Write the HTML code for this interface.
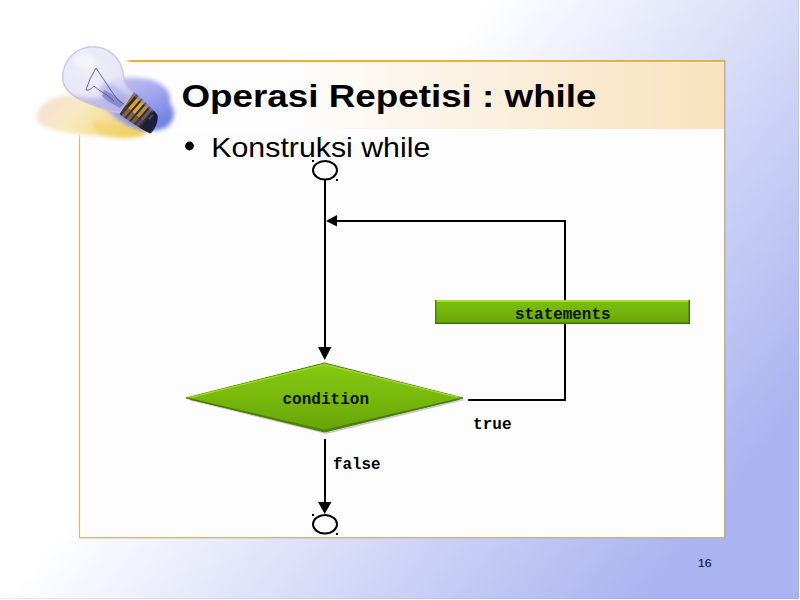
<!DOCTYPE html>
<html><head><meta charset="utf-8">
<style>
html,body{margin:0;padding:0;width:800px;height:600px;overflow:hidden;background:#fff;}
#bg{position:absolute;left:0;top:0;width:799px;height:599px;
background:linear-gradient(129deg,#ffffff 38%,#aab4f0 88%);box-shadow:inset -1px -1px 0 rgba(150,150,170,0.18);}
svg{position:absolute;left:0;top:0;}
text{font-family:"Liberation Sans",sans-serif;}
.mono{font-family:"Liberation Mono",monospace;font-weight:bold;}
</style></head><body>
<div id="bg"></div>
<svg width="800" height="600" viewBox="0 0 800 600">
<defs>
  <linearGradient id="tbar" x1="0" y1="0" x2="1" y2="0">
    <stop offset="0" stop-color="#fdfdfd"/>
    <stop offset="0.33" stop-color="#fdfdfd"/>
    <stop offset="1" stop-color="#f9e1bc"/>
  </linearGradient>
  <linearGradient id="grn" x1="0" y1="0" x2="0" y2="1">
    <stop offset="0" stop-color="#7cbe10"/>
    <stop offset="0.5" stop-color="#74b40c"/>
    <stop offset="1" stop-color="#68a40a"/>
  </linearGradient>
  <linearGradient id="grnd" x1="0" y1="0" x2="0" y2="1">
    <stop offset="0" stop-color="#86ca14"/>
    <stop offset="0.5" stop-color="#78b80c"/>
    <stop offset="1" stop-color="#66a40a"/>
  </linearGradient>

  <filter id="b1" x="-20%" y="-20%" width="140%" height="140%"><feGaussianBlur stdDeviation="0.7"/></filter>
  <filter id="b2" x="-20%" y="-20%" width="140%" height="140%"><feGaussianBlur stdDeviation="2"/></filter>
  <linearGradient id="peach" x1="0" y1="0" x2="1" y2="0.3">
    <stop offset="0" stop-color="#f8dcdc"/>
    <stop offset="0.45" stop-color="#f8eac0"/>
    <stop offset="1" stop-color="#f2d478"/>
  </linearGradient>
  <linearGradient id="blue" x1="0.1" y1="0" x2="0.8" y2="1">
    <stop offset="0" stop-color="#cac6f2"/>
    <stop offset="0.45" stop-color="#a8a8ee"/>
    <stop offset="1" stop-color="#687ce2"/>
  </linearGradient>
  <filter id="b05" x="-20%" y="-20%" width="140%" height="140%"><feGaussianBlur stdDeviation="0.5"/></filter>
  <radialGradient id="glass" cx="0.4" cy="0.35" r="0.6">
    <stop offset="0" stop-color="#eeeef8" stop-opacity="0.9"/>
    <stop offset="0.7" stop-color="#e0e0f4" stop-opacity="0.8"/>
    <stop offset="1" stop-color="#d0cef0" stop-opacity="0.65"/>
  </radialGradient>
</defs>
<!-- panel -->
<rect x="79" y="60" width="646" height="478" fill="#fdfdfd"/>
<rect x="80" y="62" width="644" height="67" fill="url(#tbar)"/>
<rect x="79" y="60" width="1" height="478" fill="#c9b98a"/>
<rect x="78" y="60" width="1" height="478" fill="#fcf6dc"/>
<rect x="80" y="60" width="1" height="477" fill="#fffbe6"/>
<rect x="724" y="60" width="1" height="478" fill="#bdb78e"/>
<rect x="725" y="60" width="1" height="479" fill="#a8a070" fill-opacity="0.35"/>
<rect x="723" y="130" width="1" height="406" fill="#fffdf0"/>
<rect x="79" y="537" width="646" height="1" fill="#c9b98a"/>
<rect x="79" y="538" width="646" height="1" fill="#a8a070" fill-opacity="0.25"/>
<rect x="80" y="536" width="644" height="1" fill="#fffbe6"/>
<rect x="79" y="60" width="646" height="2" fill="#e9ad4e"/>
<rect x="80" y="62" width="644" height="1" fill="#fff6d6"/>
<rect x="80" y="129" width="644" height="1" fill="#ffffff"/>
<!-- bulb -->
<g id="bulb">
  <rect x="64" y="50" width="64" height="86" fill="#fefefe" filter="url(#b2)"/>
  <!-- yellow/peach shadow -->
  <path d="M37,117 C38,104 52,95 72,95 C92,95 110,102 126,110 C140,116 150,124 147,132 C140,139 120,138 100,136 C80,134 60,133 48,128 C40,125 36,121 37,117 Z" fill="url(#peach)" filter="url(#b2)"/>
  <path d="M92,121 C108,124 126,127 140,126 C147,128 149,133 141,136 C126,139 108,137 96,131 Z" fill="#f2d060" fill-opacity="0.6" filter="url(#b2)"/>
  <!-- blue shadow -->
  <path d="M106,82 C118,76 136,76 152,80 C165,84 172,93 170,103 C175,109 176,119 168,126 C160,132 144,132 130,126 C116,120 104,108 100,98 C99,91 101,86 106,82 Z" fill="url(#blue)" filter="url(#b2)"/>
  <!-- glass -->
  <clipPath id="gclip"><path d="M62,78 A31,31 0 0 1 124,76 C125,84 128,89 134,93 L121,114 C108,111 92,106 80,100 C68,94 62,87 62,78 Z"/></clipPath>
  <g clip-path="url(#gclip)">
    <rect x="55" y="40" width="85" height="80" fill="url(#glass)"/>
    <path d="M55,88 C70,98 92,100 112,96 C122,94 130,96 140,100 L140,120 L55,120 Z" fill="#b8b0e8" fill-opacity="0.75" filter="url(#b2)"/>
    <path d="M62,78 A31,31 0 0 1 124,76 C125,84 128,89 134,93 L121,114 C108,111 92,106 80,100 C68,94 62,87 62,78 Z" fill="none" stroke="#c4c4e4" stroke-width="3" stroke-opacity="0.8" filter="url(#b1)"/>
    <ellipse cx="84" cy="60" rx="11" ry="7" fill="#ffffff" fill-opacity="0.4" filter="url(#b2)"/>
    <ellipse cx="114" cy="96" rx="16" ry="9" transform="rotate(38 114 96)" fill="#a4a6ea" fill-opacity="0.6" filter="url(#b2)"/>
  </g>
  <!-- filament -->
  <g stroke="#4a4a70" stroke-width="0.8" fill="none" filter="url(#b05)">
    <path d="M96,68 L90,79 L86,90 C89,91 92,88 94,86"/>
    <path d="M96,68 L104,80 L112,92 L118,100 L124,104"/>
    <path d="M94,86 C98,90 104,93 108,96 L114,101"/>
  </g>
  <path d="M104,90 C110,92 118,98 124,104 L120,108 C112,104 106,100 102,96 Z" fill="#5a5ca8" fill-opacity="0.45" filter="url(#b1)"/>
  <!-- base -->
  <clipPath id="bclip"><path d="M134,92 C136,93 156,112 157.5,115 C159,121 154,132 150,133.5 C146,132 122,117 119.5,114 Z"/></clipPath>
  <g clip-path="url(#bclip)" filter="url(#b05)">
    <rect x="115" y="88" width="50" height="50" fill="#3a2c24"/>
    <g transform="translate(138.5,113) rotate(41)">
      <rect x="-17" y="-15" width="3" height="30" fill="#8a7050"/>
      <rect x="-11" y="-14" width="3.4" height="28" fill="#d2a43c"/>
      <rect x="-5.5" y="-14" width="3.4" height="28" fill="#d8ac40"/>
      <rect x="0" y="-14" width="3.4" height="28" fill="#b89040"/>
      <rect x="5.5" y="-14" width="3" height="28" fill="#6a5a6a"/>
      <rect x="-18" y="3" width="28" height="12" fill="#4a3a50" fill-opacity="0.6"/>
      <rect x="-18" y="-14" width="28" height="4" fill="#7880d0" fill-opacity="0.5"/>
      <rect x="11" y="-15" width="10" height="30" fill="#1c1c3a"/>
      <rect x="11" y="-8" width="2" height="6" fill="#5060a0" fill-opacity="0.6"/>
    </g>
  </g>
</g>

<!-- title -->
<text x="181.5" y="106.6" font-size="32" font-weight="bold" fill="#000" textLength="415" lengthAdjust="spacingAndGlyphs">Operasi Repetisi : while</text>
<!-- bullet -->
<circle cx="189.5" cy="146" r="4.4" fill="#000"/>
<text x="211.3" y="157" font-size="28.5" fill="#000" textLength="219" lengthAdjust="spacingAndGlyphs">Konstruksi while</text>

<!-- flowchart -->
<g stroke="#000" stroke-width="2" fill="none">
  <ellipse cx="325" cy="170.3" rx="12" ry="9.3"/>
  <ellipse cx="325" cy="524.3" rx="12" ry="9.3"/>
  <line x1="325" y1="180" x2="325" y2="348"/>
  <polyline points="337,221 565,221 565,400 468,400"/>
  <line x1="325" y1="439" x2="325" y2="503"/>
</g>
<g fill="#000">
  <polygon points="326,221 337,215 337,226.5"/>
  <polygon points="318,347 331.5,347 324.7,360"/>
  <polygon points="318,502 331.5,502 324.7,514"/>
  <rect x="312" y="160" width="2" height="2"/>
  <rect x="336" y="179" width="2" height="2"/>
  <rect x="312" y="514" width="2" height="2"/>
  <rect x="336" y="533" width="2" height="2"/>
</g>
<!-- statements -->
<rect x="436" y="302" width="255" height="23" fill="#000" fill-opacity="0.06" filter="url(#b1)"/>
<rect x="435" y="300" width="255" height="24" fill="url(#grn)"/>
<rect x="435" y="300" width="255" height="2" fill="#a2e02a"/>
<rect x="435" y="300" width="1.5" height="24" fill="#4e800a"/>
<rect x="688.5" y="300" width="1.5" height="24" fill="#44700a"/>
<rect x="435" y="322.5" width="255" height="1.5" fill="#44700a"/>
<text class="mono" x="515" y="318.5" font-size="16" fill="#0a1400" textLength="95.5" lengthAdjust="spacingAndGlyphs">statements</text>
<!-- diamond -->
<polygon points="188,400 326.5,365 465,400 326.5,434" fill="#000" fill-opacity="0.2" filter="url(#b1)"/>
<polygon points="186,398 324.5,363 463,398 324.5,432" fill="url(#grnd)" stroke="#4f7d10" stroke-width="1"/>
<polyline points="190,397.5 324.5,364.5 459,397.5" fill="none" stroke="#9ad828" stroke-width="1.5"/>
<polyline points="190,399 324.5,430.5 459,399" fill="none" stroke="#4a7c08" stroke-width="1.5"/>
<text class="mono" x="282.5" y="403.8" font-size="16" fill="#0a1400" textLength="86.5" lengthAdjust="spacingAndGlyphs">condition</text>
<text class="mono" x="473" y="428.5" font-size="16" fill="#000" textLength="38.5" lengthAdjust="spacingAndGlyphs">true</text>
<text class="mono" x="333" y="468.8" font-size="16" fill="#000" textLength="47.5" lengthAdjust="spacingAndGlyphs">false</text>
<!-- page num -->
<text x="698" y="567" font-size="11.5" fill="#0e1434" textLength="13.5" lengthAdjust="spacingAndGlyphs" stroke="#0e1434" stroke-width="0.15">16</text>
</svg>
</body></html>
